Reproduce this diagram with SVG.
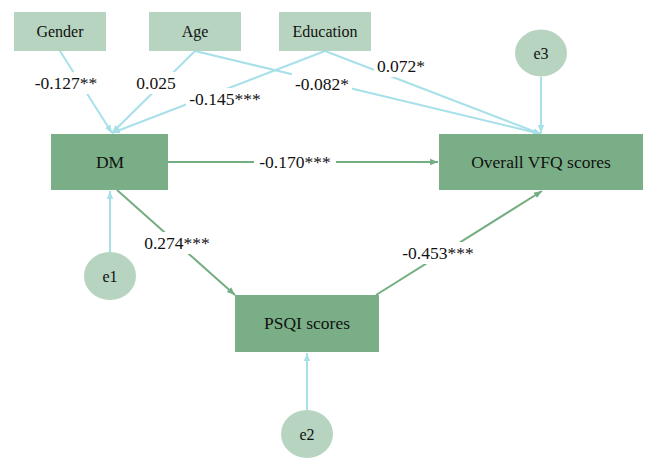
<svg xmlns="http://www.w3.org/2000/svg" width="669" height="458" viewBox="0 0 669 458" font-family="'Liberation Serif', 'Times New Roman', 'DejaVu Serif', serif">
<style>
.light{fill:#b6d4bf}
.dark{fill:#7aae86}
text{font-family:'Liberation Serif','Times New Roman','DejaVu Serif',serif;fill:#111;text-anchor:middle}
.nt{font-size:16px}
.bt{font-size:17.5px}
.lb{font-size:17.5px}
.bl{stroke:#a8e0ea;stroke-width:2;fill:none}
.gr{stroke:#74ad80;stroke-width:2;fill:none}
.bg{fill:#fff}
</style>
<defs>
<marker id="ab" viewBox="0 0 10 10" refX="10" refY="5" markerWidth="4" markerHeight="4" orient="auto" markerUnits="strokeWidth"><path d="M0,1 L10,5 L0,9 z" fill="#a8e0ea"/></marker>
<marker id="ag" viewBox="0 0 10 10" refX="10" refY="5" markerWidth="4" markerHeight="4" orient="auto" markerUnits="strokeWidth"><path d="M0,1 L10,5 L0,9 z" fill="#74ad80"/></marker>
</defs>
<rect width="669" height="458" fill="#fff"/>
<g id="connectors">
<line class="bl" x1="60" y1="51" x2="112" y2="133" marker-end="url(#ab)"/>
<line class="bl" x1="195" y1="51" x2="112" y2="133" marker-end="url(#ab)"/>
<line class="bl" x1="325" y1="51" x2="112" y2="133" marker-end="url(#ab)"/>
<line class="bl" x1="195" y1="51" x2="541" y2="134" marker-end="url(#ab)"/>
<line class="bl" x1="325" y1="51" x2="541" y2="134" marker-end="url(#ab)"/>
<line class="bl" x1="541" y1="77" x2="541" y2="133" marker-end="url(#ab)"/>
<line class="bl" x1="110" y1="252" x2="110" y2="191" marker-end="url(#ab)"/>
<line class="bl" x1="307" y1="410" x2="307" y2="353" marker-end="url(#ab)"/>
<line class="gr" x1="168" y1="162" x2="438" y2="162" marker-end="url(#ag)"/>
<line class="gr" x1="117" y1="190" x2="235" y2="295" marker-end="url(#ag)"/>
<line class="gr" x1="376" y1="295" x2="542" y2="191" marker-end="url(#ag)"/>
<rect class="bg" x="32" y="72" width="68" height="22"/>
<text class="lb" x="66" y="89">-0.127**</text>
<rect class="bg" x="134" y="72" width="44" height="22"/>
<text class="lb" x="156" y="89">0.025</text>
<rect class="bg" x="186" y="88" width="78" height="22"/>
<text class="lb" x="225" y="105">-0.145***</text>
<rect class="bg" x="292" y="73" width="60" height="22"/>
<text class="lb" x="322" y="90">-0.082*</text>
<rect class="bg" x="374" y="55" width="54" height="22"/>
<text class="lb" x="401" y="72">0.072*</text>
<rect class="bg" x="254" y="151" width="82" height="22"/>
<text class="lb" x="295" y="168">-0.170***</text>
<rect class="bg" x="142" y="232" width="70" height="22"/>
<text class="lb" x="177" y="249">0.274***</text>
<rect class="bg" x="400" y="242" width="76" height="22"/>
<text class="lb" x="438" y="259">-0.453***</text>
</g>
<g id="gender"><rect class="light" x="14" y="12" width="92" height="39"/><text class="nt" x="60" y="37">Gender</text></g>
<g id="age"><rect class="light" x="149" y="12" width="92" height="39"/><text class="nt" x="195" y="37">Age</text></g>
<g id="education"><rect class="light" x="279" y="12" width="92" height="39"/><text class="nt" x="325" y="37">Education</text></g>
<g id="e3"><ellipse class="light" cx="541" cy="53" rx="26" ry="23.5"/><text class="nt" x="541" y="59">e3</text></g>
<g id="dm"><rect class="dark" x="51" y="134" width="117" height="56"/><text class="bt" x="110" y="168">DM</text></g>
<g id="vfq"><rect class="dark" x="439" y="134" width="204" height="56"/><text class="bt" x="541" y="168">Overall VFQ scores</text></g>
<g id="e1"><ellipse class="light" cx="110" cy="276" rx="26" ry="24"/><text class="nt" x="110" y="282">e1</text></g>
<g id="psqi"><rect class="dark" x="235" y="295" width="144" height="57"/><text class="bt" x="307" y="329">PSQI scores</text></g>
<g id="e2"><ellipse class="light" cx="307" cy="434" rx="26" ry="24"/><text class="nt" x="307" y="440">e2</text></g>
</svg>
